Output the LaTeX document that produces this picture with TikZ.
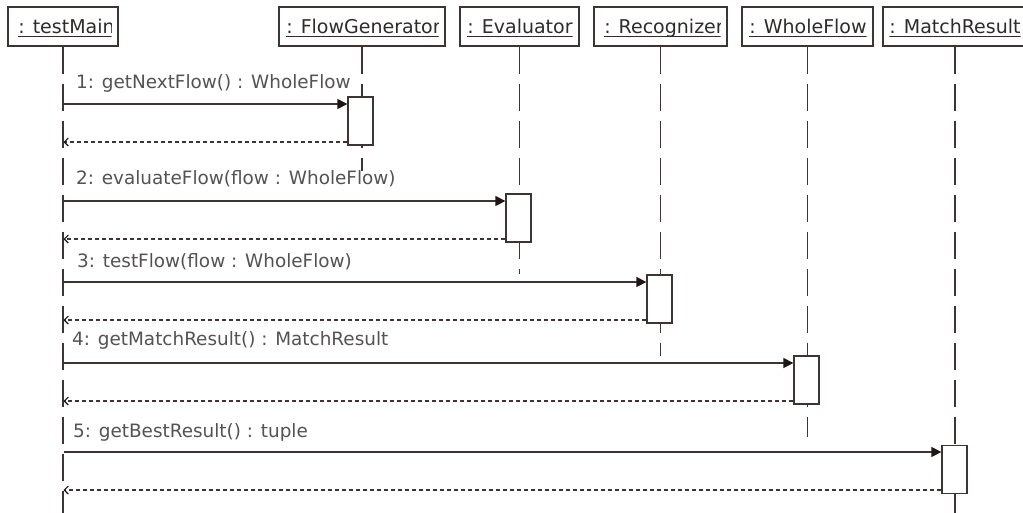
\documentclass[tikz,border=0pt]{standalone}
\usepackage{fontspec}
\setmainfont{DejaVu Sans}
\usetikzlibrary{arrows.meta}
\definecolor{lc}{RGB}{62,52,52}
\definecolor{tipc}{RGB}{30,22,22}
\definecolor{hc}{RGB}{48,43,43}
\definecolor{mc}{RGB}{85,82,82}
% object box with a clipped, underlined name (#5: centre of the name)
\newcommand\headobj[5]{%
  \node[headbox, minimum width=#3pt] (#1) at (#2,26.5) {};
  \begin{scope}
    \clip ([xshift=7pt]#1.south west) rectangle ([xshift=-7pt]#1.north east);
    \node[headtext] (#1t) at (#5,33) {#4};
    \draw[hc, line width=1pt] ([yshift=-3pt]#1t.base west) -- ([yshift=-3pt]#1t.base east);
  \end{scope}}
\begin{document}
\begin{tikzpicture}[x=1pt,y=-1pt,
  every node/.style={font=\fontsize{18.4}{20}\selectfont},
  headbox/.style={draw=lc, line width=1.3pt, fill=white, rectangle, inner sep=0pt, minimum height=39pt},
  headtext/.style={text=hc, anchor=base, inner sep=0pt, font=\fontsize{19}{21}\selectfont},
  lifeline/.style={draw=lc, line width=1.4pt, dash pattern=on 27pt off 10pt},
  act/.style={draw=lc, line width=1.3pt, fill=white, rectangle, inner sep=0pt, minimum width=25pt, minimum height=48pt},
  call/.style={draw=lc, line width=1.3pt, -{Triangle[length=10pt,width=10pt,color=tipc]}},
  reply/.style={draw=lc, line width=1.1pt, dash pattern=on 4pt off 3pt, -{Straight Barb[length=4pt,width=8pt,color=tipc]}},
  msg/.style={text=mc, anchor=base west, inner sep=0pt},
]
\useasboundingbox[fill=white] (0,0) rectangle (1023,512);

% objects
\headobj{tm}{63}{110}{: testMain}{66.5}
\headobj{fg}{362}{166}{: FlowGenerator}{363.5}
\headobj{ev}{519.5}{119}{: Evaluator}{520}
\headobj{rc}{660.5}{133}{: Recognizer}{664}
\headobj{wf}{807.5}{131}{: WholeFlow}{808}
\headobj{mr}{955}{144}{: MatchResult}{955}

% lifelines
\draw[lifeline] (tm.south) -- ++(0,466);
\draw[lifeline] (fg.south) -- ++(0,124);
\draw[lifeline] (ev.south) -- ++(0,227);
\draw[lifeline] (rc.south) -- ++(0,309);
\draw[lifeline] (wf.south) -- ++(0,390);
\draw[lifeline] (mr.south) -- ++(0,470);

% activations
\node[act] (a1) at (360.5,121) {};
\node[act] (a2) at (518.5,218) {};
\node[act] (a3) at (659.5,299) {};
\node[act] (a4) at (806.5,380) {};
\node[act] (a5) at (954.5,469.5) {};

% messages
\coordinate (c1) at (63.5,104);
\coordinate (r1) at (63.5,142);
\coordinate (c2) at (63.5,201);
\coordinate (r2) at (63.5,239);
\coordinate (c3) at (63.5,282);
\coordinate (r3) at (63.5,320);
\coordinate (c4) at (63.5,363);
\coordinate (r4) at (63.5,401);
\coordinate (c5) at (63.5,452);
\coordinate (r5) at (63.5,490);

\draw[call] (c1) -- (c1 -| a1.west);
\draw[reply] (r1 -| a1.west) -- (r1);
\draw[call] (c2) -- (c2 -| a2.west);
\draw[reply] (r2 -| a2.west) -- (r2);
\draw[call] (c3) -- (c3 -| a3.west);
\draw[reply] (r3 -| a3.west) -- (r3);
\draw[call] (c4) -- (c4 -| a4.west);
\draw[reply] (r4 -| a4.west) -- (r4);
\draw[call] (c5) -- (c5 -| a5.west);
\draw[reply] (r5 -| a5.west) -- (r5);

% message labels
\node[msg] (l1) at (76,88) {1: getNextFlow() : WholeFlow};
\node[msg] (l2) at (76,184) {2: evaluateFlow(flow : WholeFlow)};
\node[msg] (l3) at (77,267) {3: testFlow(flow : WholeFlow)};
\node[msg] (l4) at (72,345) {4: getMatchResult() : MatchResult};
\node[msg] (l5) at (73,437) {5: getBestResult() : tuple};
\end{tikzpicture}
\end{document}
